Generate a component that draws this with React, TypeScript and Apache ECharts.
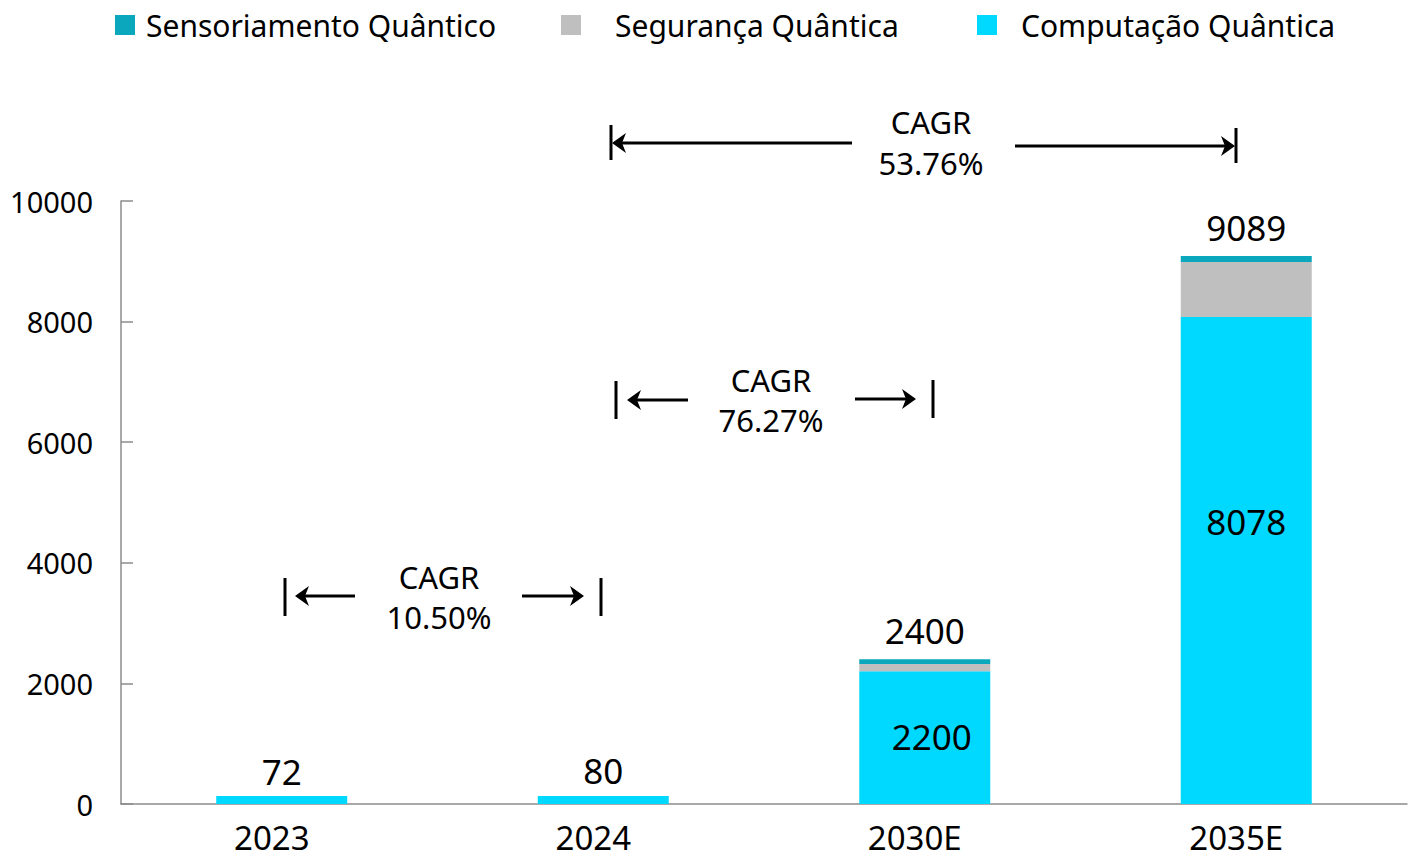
import React, { useEffect, useRef } from "react";
import * as echarts from "echarts";

const categories = ["2023", "2024", "2030E", "2035E"];
const computacao = [72, 80, 2200, 8078];
const seguranca = [0, 0, 120, 911];
const sensoriamento = [0, 0, 80, 100];
const totals = [72, 80, 2400, 9089];
const insideLabelMin = 1000;
const cagrTexts = ["10.50%", "76.27%", "53.76%"];
const seriesNames = ["Sensoriamento Quântico", "Segurança Quântica", "Computação Quântica"];
const colors = ["#0AA7BD", "#BFBFBF", "#00D9FF"];

const FONT = "Noto Sans";

function arrowHead(tipX: number, y: number, dir: number) {
  const L = 14, H = 10, N = 10;
  return {
    type: "polygon",
    shape: {
      points: [
        [tipX, y],
        [tipX - dir * L, y - H],
        [tipX - dir * N, y],
        [tipX - dir * L, y + H],
      ],
    },
    style: { fill: "#000" },
    silent: true,
  };
}

function line(x1: number, y1: number, x2: number, y2: number) {
  return {
    type: "line",
    shape: { x1, y1, x2, y2 },
    style: { stroke: "#000", lineWidth: 3 },
    silent: true,
  };
}

function text(x: number, y: number, t: string) {
  return {
    type: "text",
    x,
    y,
    style: {
      text: t,
      fill: "#000",
      font: `31px "${FONT}"`,
      align: "center",
      verticalAlign: "middle",
    },
    silent: true,
  };
}

type Ann = {
  lBar: number; lTop: number; lBot: number; lTip: number; lY: number; lEnd: number;
  rStart: number; rTip: number; rY: number; rBar: number; rTop: number; rBot: number;
  cx: number; t1: number; t2: number; label: string;
};

function annotation(a: Ann) {
  return [
    line(a.lBar, a.lTop, a.lBar, a.lBot),
    line(a.lTip + 8, a.lY, a.lEnd, a.lY),
    arrowHead(a.lTip, a.lY, -1),
    line(a.rStart, a.rY, a.rTip - 8, a.rY),
    arrowHead(a.rTip, a.rY, 1),
    line(a.rBar, a.rTop, a.rBar, a.rBot),
    text(a.cx, a.t1, "CAGR"),
    text(a.cx, a.t2, a.label),
  ];
}

export default function App() {
  const ref = useRef<HTMLDivElement>(null);
  useEffect(() => {
    if (!ref.current) return;
    const chart = echarts.init(ref.current, null, { renderer: "svg" });

    const legendPads = [6, 29, 19];
    const legendLefts = [115, 561, 977];
    const legends = seriesNames.map((n, i) => ({
      data: [n],
      left: legendLefts[i],
      top: 10,
      padding: 0,
      icon: "rect",
      itemWidth: 20,
      itemHeight: 20,
      textStyle: {
        fontFamily: FONT,
        fontSize: 30,
        color: "#000",
        padding: [0, 0, 0, legendPads[i]],
      },
    }));

    const graphics = [
      ...annotation({
        lBar: 285, lTop: 578, lBot: 616, lTip: 295, lY: 596, lEnd: 355,
        rStart: 522, rTip: 584, rY: 596, rBar: 601, rTop: 578, rBot: 616,
        cx: 439, t1: 577, t2: 617, label: cagrTexts[0],
      }),
      ...annotation({
        lBar: 616, lTop: 381, lBot: 419, lTip: 627, lY: 400, lEnd: 688,
        rStart: 855, rTip: 916, rY: 399, rBar: 933, rTop: 380, rBot: 418,
        cx: 771, t1: 380, t2: 420, label: cagrTexts[1],
      }),
      ...annotation({
        lBar: 611, lTop: 125, lBot: 160, lTip: 612, lY: 143, lEnd: 852,
        rStart: 1015, rTip: 1235, rY: 146, rBar: 1236, rTop: 128, rBot: 163,
        cx: 931, t1: 122, t2: 163, label: cagrTexts[2],
      }),
    ];

    const insideOffsets: Record<number, number[]> = { 2: [7, -1], 3: [0, -39] };

    chart.setOption({
      animation: false,
      legend: legends,
      grid: { left: 121, right: 11, top: 201, bottom: 57, containLabel: false },
      xAxis: {
        type: "category",
        data: categories,
        axisLine: { lineStyle: { color: "#8C8C8C", width: 1.5 } },
        axisTick: { inside: true, length: 10, lineStyle: { color: "#8C8C8C", width: 1.5 } },
        axisLabel: {
          color: "#000",
          fontFamily: FONT,
          fontSize: 33,
          margin: 17,
          padding: [0, 20, 0, 0],
        },
      },
      yAxis: {
        type: "value",
        min: 0,
        max: 10000,
        interval: 2000,
        splitLine: { show: false },
        axisLine: { show: true, lineStyle: { color: "#8C8C8C", width: 1.5 } },
        axisTick: { show: true, inside: true, length: 12, lineStyle: { color: "#8C8C8C", width: 1.5 } },
        axisLabel: {
          color: "#000",
          fontFamily: FONT,
          fontSize: 29,
          margin: 28,
          formatter: (v: number) => String(v),
        },
      },
      series: [
        {
          name: seriesNames[2],
          type: "bar",
          stack: "total",
          barWidth: 131,
          barMinHeight: 8,
          itemStyle: { color: colors[2] },
          data: computacao.map((v, i) => ({
            value: v,
            label: {
              show: v > insideLabelMin,
              position: "inside",
              offset: insideOffsets[i] || [0, 0],
              color: "#000",
              fontFamily: FONT,
              fontSize: 35,
            },
          })),
        },
        {
          name: seriesNames[1],
          type: "bar",
          stack: "total",
          barWidth: 131,
          itemStyle: { color: colors[1] },
          data: seguranca,
        },
        {
          name: seriesNames[0],
          type: "bar",
          stack: "total",
          barWidth: 131,
          itemStyle: { color: colors[0] },
          data: sensoriamento,
        },
        {
          name: "Total",
          type: "scatter",
          symbolSize: 0,
          itemStyle: { opacity: 1 },
          data: totals,
          label: {
            show: true,
            position: "top",
            distance: 11,
            color: "#000",
            fontFamily: FONT,
            fontSize: 35,
          },
          z: 5,
        },
      ],
      graphic: graphics,
    });

    return () => chart.dispose();
  }, []);

  return <div ref={ref} style={{ width: 1418, height: 861, margin: -8 }} />;
}
